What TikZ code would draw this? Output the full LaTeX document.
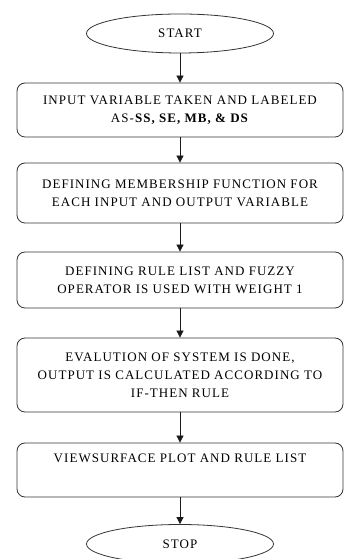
\documentclass[tikz,border=0pt]{standalone}
\usepackage{fontspec}
\setmainfont{Liberation Serif}[LetterSpace=8]
\usetikzlibrary{shapes.geometric,arrows.meta}

\tikzset{
    termbox/.style={ellipse, draw=black!80, line width=0.8pt, minimum width=187pt, minimum height=39pt, inner sep=0pt},
    stepbox/.style={rectangle, rounded corners=8pt, draw=black!80, line width=0.8pt, minimum width=326pt, align=center, inner sep=0pt},
    flow/.style={draw=black!90, line width=0.8pt, -{Triangle[length=7pt,width=7pt]}}
}

\begin{document}
\begin{tikzpicture}[x=1pt, y=1pt, font=\fontsize{13}{18}\selectfont]
    \useasboundingbox (0,0) rectangle (344,559);
    % \draw[step=10pt, gray, very thin] (0,0) grid (344,559);

    \node[termbox] (start) at (180,525.5) {START};
    \node[stepbox, minimum height=54pt] (input) at (180,449) {INPUT VARIABLE TAKEN AND LABELED\\ AS-\textbf{SS, SE, MB, \& DS}};
    \node[stepbox, minimum height=60pt] (member) at (180,366) {DEFINING MEMBERSHIP FUNCTION FOR\\ EACH INPUT AND OUTPUT VARIABLE};
    \node[stepbox, minimum height=56pt] (rules) at (180,279) {DEFINING RULE LIST AND FUZZY\\ OPERATOR IS USED WITH WEIGHT 1};
    \node[stepbox, minimum height=74pt] (eval) at (180,184) {EVALUTION OF SYSTEM IS DONE,\\ OUTPUT IS CALCULATED ACCORDING TO\\ IF-THEN RULE};
    \node[stepbox, minimum height=54pt] (view) at (180,89) {VIEWSURFACE PLOT AND RULE LIST\\ \strut};
    \node[termbox] (stop) at (180,15) {STOP};

    \foreach \a/\b in {start/input, input/member, member/rules, rules/eval, eval/view, view/stop} {
        \draw[flow] (\a) -- (\b);
    }
\end{tikzpicture}
\end{document}
